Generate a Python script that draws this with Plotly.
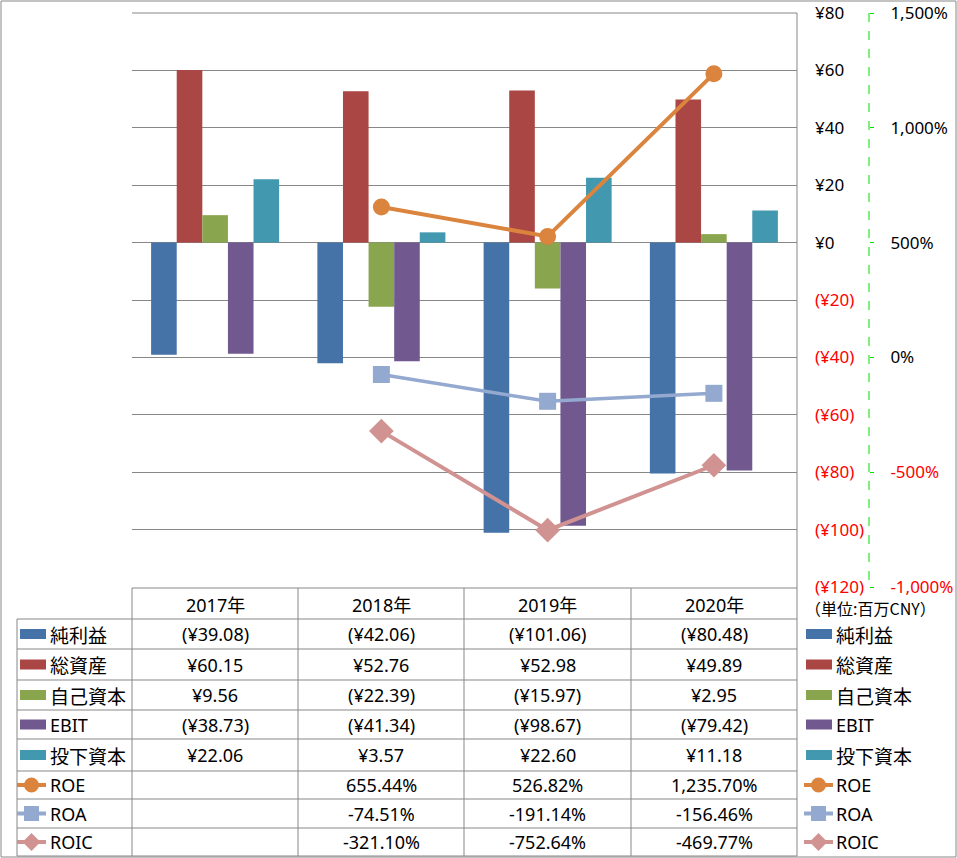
import plotly.graph_objects as go

# ---------------- data ----------------
years = ["2017年", "2018年", "2019年", "2020年"]
net_income = [-39.08, -42.06, -101.06, -80.48]      # 純利益
total_assets = [60.15, 52.76, 52.98, 49.89]         # 総資産
equity = [9.56, -22.39, -15.97, 2.95]               # 自己資本
ebit = [-38.73, -41.34, -98.67, -79.42]             # EBIT
invested_capital = [22.06, 3.57, 22.60, 11.18]      # 投下資本
roe = [None, 655.44, 526.82, 1235.70]               # ROE (%)
roa = [None, -74.51, -191.14, -156.46]              # ROA (%)
roic = [None, -321.10, -752.64, -469.77]            # ROIC (%)

bar_names = ["純利益", "総資産", "自己資本", "EBIT", "投下資本"]
bar_series = [net_income, total_assets, equity, ebit, invested_capital]
bar_colors = ["#4572A7", "#AA4643", "#89A54E", "#71588F", "#4198AF"]

line_names = ["ROE", "ROA", "ROIC"]
line_series = [roe, roa, roic]
line_colors = ["#DB843D", "#93A9CF", "#D19392"]
line_symbols = ["circle", "square", "diamond"]
line_sizes = [17, 17, 19]
line_widths = [4, 3.5, 4]

y1_ticks = list(range(-120, 81, 20))
y2_ticks = list(range(-1000, 1501, 500))
unit_label = "（単位:百万CNY）"

# ---------------- geometry helpers ----------------
W, H = 957, 858
def px(x):
    return x / W
def py(y):
    return 1 - y / H

PLOT_L, PLOT_R, PLOT_T, PLOT_B = 132, 797, 13, 587
AX2_X = 869
GRID = "#878787"
RED = "#FF0000"
FONT = "Noto Sans, Noto Sans CJK JP, sans-serif"
CJK = "Noto Sans CJK JP, Noto Sans, sans-serif"

def yen(v):
    s = f"¥{abs(v):,.2f}"
    return f"({s})" if v < 0 else s

def pct(v):
    return "" if v is None else f"{v:,.2f}%"

def red(s):
    return f'<span style="color:{RED}">{s}</span>'

fig = go.Figure()

for name, vals, col in zip(bar_names, bar_series, bar_colors):
    fig.add_trace(go.Bar(x=years, y=vals, name=name, marker=dict(color=col, line=dict(width=0)),
                         hoverinfo="skip"))

for name, vals, col, sym, sz, lw in zip(line_names, line_series, line_colors, line_symbols, line_sizes, line_widths):
    fig.add_trace(go.Scatter(x=years, y=vals, name=name, yaxis="y2", mode="lines+markers",
                             line=dict(color=col, width=lw),
                             marker=dict(symbol=sym, size=sz, color=col, line=dict(width=0)),
                             connectgaps=False, hoverinfo="skip"))

y1_text = [red(f"(¥{-v})") if v < 0 else f"¥{v}" for v in y1_ticks]
y2_text = [red(f"{v:,}%") if v < 0 else f"{v:,}%" for v in y2_ticks]

fig.update_layout(
    template="none",
    width=W, height=H,
    margin=dict(l=0, r=0, t=0, b=0, pad=0),
    paper_bgcolor="white", plot_bgcolor="rgba(0,0,0,0)",
    showlegend=False,
    barmode="group", bargap=0.23, bargroupgap=0,
    font=dict(family=FONT, size=17, color="#000000"),
    xaxis=dict(domain=[px(PLOT_L), px(PLOT_R)], type="category", range=[-0.5, 3.5],
               showticklabels=False, showgrid=False, zeroline=False, showline=False,
               ticks="", automargin=False),
    yaxis=dict(domain=[py(PLOT_B), py(PLOT_T)], range=[-120, 80], side="right",
               tickvals=y1_ticks, ticktext=y1_text, tickfont=dict(size=17, family=FONT),
               showgrid=True, gridcolor=GRID, gridwidth=1,
               zeroline=True, zerolinecolor=GRID, zerolinewidth=1,
               showline=False, ticks="", ticklabelstandoff=17, automargin=False),
    yaxis2=dict(overlaying="y", anchor="free", position=px(AX2_X), side="right",
                range=[-1000, 1500], tickvals=y2_ticks, ticktext=y2_text,
                tickfont=dict(size=17, family=FONT),
                showgrid=False, zeroline=False, showline=False,
                ticks="outside", ticklen=4, tickwidth=1, tickcolor="#00DD00",
                ticklabelstandoff=13, automargin=False),
)

shapes = []
def hline(y, x0, x1, color=GRID, width=1, dash="solid", layer="above"):
    shapes.append(dict(type="line", xref="paper", yref="paper", x0=px(x0), x1=px(x1),
                       y0=py(y), y1=py(y), line=dict(color=color, width=width, dash=dash), layer=layer))
def vline(x, y0, y1, color=GRID, width=1, dash="solid"):
    shapes.append(dict(type="line", xref="paper", yref="paper", x0=px(x), x1=px(x),
                       y0=py(y0), y1=py(y1), line=dict(color=color, width=width, dash=dash), layer="above"))

# outer chart border
shapes.append(dict(type="rect", xref="paper", yref="paper", x0=px(1), x1=px(956), y0=py(1), y1=py(857),
                   line=dict(color=GRID, width=1), fillcolor="rgba(0,0,0,0)", layer="below"))

# top gridline of plot area (range edge)
hline(PLOT_T, PLOT_L, PLOT_R, layer="below")

# green dashed secondary axis line
vline(AX2_X, PLOT_T, PLOT_B, color="#00DD00", width=1, dash="dash")

# data table grid
col_x = [132, 298, 464, 631, 797]
header_top, header_bot = 588, 619
row_y = [619, 649, 680, 710, 739, 771, 799, 828, 856]
label_left = 17
hline(header_top, col_x[0], col_x[-1])
for y in row_y:
    hline(y, label_left, col_x[-1])
vline(label_left, row_y[0], row_y[-1])
for x in col_x[:-1]:
    vline(x, header_top, row_y[-1])
vline(col_x[-1], PLOT_T, row_y[-1])

annotations = []
def text(x, y, s, anchor="center", size=18, family=FONT):
    annotations.append(dict(x=px(x), y=py(y), xref="paper", yref="paper", text=s, showarrow=False,
                            xanchor=anchor, yanchor="middle", borderpad=0,
                            font=dict(size=size, family=family, color="#000000")))

def label(x, y, s):
    if s.isascii():
        text(x, y, s, anchor="left", size=18, family=FONT)
    else:
        text(x, y, s, anchor="left", size=19, family=CJK)

# header
for i, yr in enumerate(years):
    text((col_x[i] + col_x[i + 1]) / 2, (header_top + header_bot) / 2 + 1, yr, size=18)

row_centers = [(row_y[i] + row_y[i + 1]) / 2 for i in range(len(row_y) - 1)]

# legend keys (both in table and on right side)
def bar_key(xl, yc, col):
    shapes.append(dict(type="rect", xref="paper", yref="paper", x0=px(xl), x1=px(xl + 26),
                       y0=py(yc - 5), y1=py(yc + 5), line=dict(width=0), fillcolor=col, layer="above"))

def line_key(xl, yc, col, sym):
    shapes.append(dict(type="line", xref="paper", yref="paper", x0=px(xl), x1=px(xl + 29),
                       y0=py(yc), y1=py(yc), line=dict(color=col, width=4), layer="above"))
    cx = xl + 14.5
    if sym == "circle":
        shapes.append(dict(type="circle", xref="paper", yref="paper", x0=px(cx - 7.5), x1=px(cx + 7.5),
                           y0=py(yc - 7.5), y1=py(yc + 7.5), line=dict(width=0), fillcolor=col, layer="above"))
    elif sym == "square":
        shapes.append(dict(type="rect", xref="paper", yref="paper", x0=px(cx - 7.5), x1=px(cx + 7.5),
                           y0=py(yc - 7.5), y1=py(yc + 7.5), line=dict(width=0), fillcolor=col, layer="above"))
    else:
        d = 9
        path = (f"M {px(cx - d)} {py(yc)} L {px(cx)} {py(yc - d)} L {px(cx + d)} {py(yc)} "
                f"L {px(cx)} {py(yc + d)} Z")
        shapes.append(dict(type="path", xref="paper", yref="paper", path=path, line=dict(width=0),
                           fillcolor=col, layer="above"))

for i, (name, vals, col) in enumerate(zip(bar_names, bar_series, bar_colors)):
    yc = row_centers[i]
    bar_key(20, yc, col)
    bar_key(806, yc, col)
    label(49, yc, name)
    label(835, yc, name)
    for j, v in enumerate(vals):
        text((col_x[j] + col_x[j + 1]) / 2, yc, yen(v))

for k, (name, vals, col, sym) in enumerate(zip(line_names, line_series, line_colors, line_symbols)):
    yc = row_centers[len(bar_names) + k]
    line_key(17, yc, col, sym)
    line_key(804, yc, col, sym)
    label(49, yc, name)
    label(835, yc, name)
    for j, v in enumerate(vals):
        if v is not None:
            text((col_x[j] + col_x[j + 1]) / 2, yc, pct(v))

text(804, 608, unit_label, anchor="left", size=16, family=CJK)

fig.update_layout(shapes=shapes, annotations=annotations)

fig.write_html("out.html", config={"displayModeBar": False},
               post_script="document.body.style.margin='0';")
